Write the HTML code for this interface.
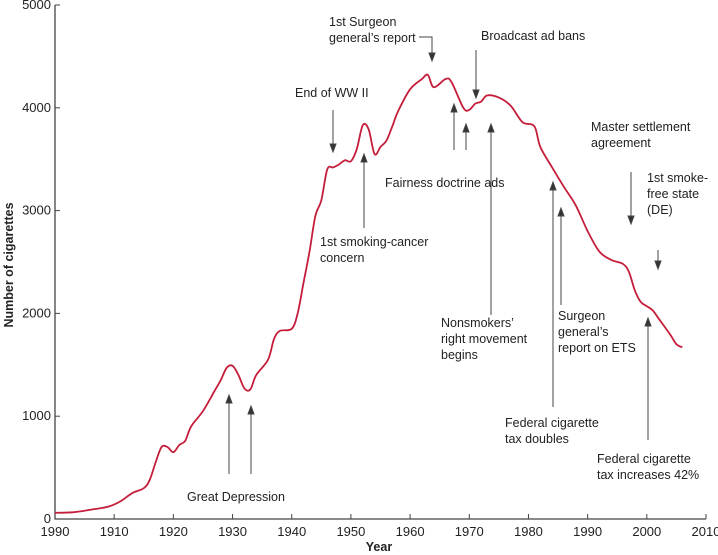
<!DOCTYPE html>
<html><head><meta charset="utf-8"><style>
html,body{margin:0;padding:0;background:#fff}
svg{display:block}
text{font-family:"Liberation Sans",Arial,sans-serif;font-size:12.5px;fill:#222}
#tl text{font-size:13px}
</style></head><body>
<svg id="s" width="718" height="555" viewBox="0 0 718 555">
<g stroke="#444" stroke-width="1.3" fill="none">
<path d="M55,5 V519 H706"/>
</g>
<g id="ticks" stroke="#444" stroke-width="1"></g>
<g id="tl"></g>
<path id="curve" fill="none" stroke="#c41e3a" stroke-width="1.8"/>
<g stroke="#444" stroke-width="1" fill="none">
<line x1="229" y1="474" x2="229" y2="397"/><path d="M226,403 L229,395 L232,403Z" fill="#333"/>
<line x1="251" y1="474" x2="251" y2="408"/><path d="M248,414 L251,406 L254,414Z" fill="#333"/>
<line x1="333" y1="110" x2="333" y2="150"/><path d="M330,144 L333,152 L336,144Z" fill="#333"/>
<line x1="364" y1="228" x2="364" y2="156"/><path d="M361,162 L364,154 L367,162Z" fill="#333"/>
<path d="M419,37 H432 V58"/><path d="M429,53 L432,61 L435,53Z" fill="#333"/>
<line x1="476" y1="50" x2="476" y2="96"/><path d="M473,90 L476,98 L479,90Z" fill="#333"/>
<line x1="454" y1="150" x2="454" y2="106"/><path d="M451,112 L454,104 L457,112Z" fill="#333"/>
<line x1="466" y1="150" x2="466" y2="126"/><path d="M463,132 L466,124 L469,132Z" fill="#333"/>
<line x1="491" y1="315" x2="491" y2="126"/><path d="M488,132 L491,124 L494,132Z" fill="#333"/>
<line x1="553" y1="407" x2="553" y2="184"/><path d="M550,190 L553,182 L556,190Z" fill="#333"/>
<line x1="561" y1="305" x2="561" y2="210"/><path d="M558,216 L561,208 L564,216Z" fill="#333"/>
<line x1="631" y1="172" x2="631" y2="222"/><path d="M628,216 L631,224 L634,216Z" fill="#333"/>
<line x1="658" y1="250" x2="658" y2="266"/><path d="M655,261 L658,269 L661,261Z" fill="#333"/>
<line x1="648" y1="440" x2="648" y2="320"/><path d="M645,326 L648,318 L651,326Z" fill="#333"/>
</g>
<text x="187" y="501">Great Depression</text>
<text x="295" y="97">End of WW II</text>
<text x="320" y="246">1st smoking-cancer</text>
<text x="320" y="262">concern</text>
<text x="329" y="26">1st Surgeon</text>
<text x="329" y="42">general’s report</text>
<text x="481" y="40">Broadcast ad bans</text>
<text x="385" y="187">Fairness doctrine ads</text>
<text x="441" y="327">Nonsmokers’</text>
<text x="441" y="343">right movement</text>
<text x="441" y="359">begins</text>
<text x="558" y="320">Surgeon</text>
<text x="558" y="336">general’s</text>
<text x="558" y="352">report on ETS</text>
<text x="505" y="427">Federal cigarette</text>
<text x="505" y="443">tax doubles</text>
<text x="591" y="131">Master settlement</text>
<text x="591" y="147">agreement</text>
<text x="647" y="182">1st smoke-</text>
<text x="647" y="198">free state</text>
<text x="647" y="214">(DE)</text>
<text x="597" y="463">Federal cigarette</text>
<text x="597" y="479">tax increases 42%</text>
<text x="379" y="551" style="font-weight:bold" text-anchor="middle">Year</text>
<text transform="translate(13,265) rotate(-90)" text-anchor="middle" style="font-weight:bold">Number of cigarettes</text>
</svg>
<script>
var X=function(y){return 55+(y-1900)*651/110},Y=function(v){return 519-v*0.1028};
var ns="http://www.w3.org/2000/svg",t=document.getElementById('ticks'),tl=document.getElementById('tl');
var labs=["1990","1910","1920","1930","1940","1950","1960","1970","1980","1990","2000","2010"];
for(var i=0;i<=11;i++){var x=X(1900+i*10);var l=document.createElementNS(ns,'line');l.setAttribute('x1',x);l.setAttribute('x2',x);l.setAttribute('y1',519);l.setAttribute('y2',514);t.appendChild(l);
var tx=document.createElementNS(ns,'text');tx.setAttribute('x',x);tx.setAttribute('y',536);tx.setAttribute('text-anchor','middle');tx.textContent=labs[i];tl.appendChild(tx);}
for(var v=0;v<=5000;v+=1000){var y=Y(v);var l=document.createElementNS(ns,'line');l.setAttribute('x1',55);l.setAttribute('x2',60);l.setAttribute('y1',y);l.setAttribute('y2',y);t.appendChild(l);
var tx=document.createElementNS(ns,'text');tx.setAttribute('x',51);tx.setAttribute('y',y+4);tx.setAttribute('text-anchor','end');tx.textContent=v;tl.appendChild(tx);}
var d=[[1900,60],[1903,65],[1906,90],[1909,120],[1911,170],[1913,250],[1915,300],[1916,380],[1917,550],[1918,700],[1919,700],[1920,650],[1921,720],[1922,760],[1923,900],[1925,1050],[1927,1250],[1928,1350],[1929,1470],[1930,1490],[1931,1400],[1932,1270],[1933,1260],[1934,1400],[1936,1550],[1937,1750],[1938,1830],[1940,1850],[1941,2000],[1942,2300],[1943,2600],[1944,2950],[1945,3100],[1946,3400],[1947,3420],[1948,3450],[1949,3490],[1950,3480],[1951,3600],[1952,3830],[1953,3790],[1954,3550],[1955,3620],[1956,3680],[1957,3820],[1958,3970],[1960,4180],[1962,4280],[1963,4320],[1964,4200],[1966,4280],[1967,4250],[1969,4000],[1970,3980],[1971,4040],[1972,4060],[1973,4120],[1975,4100],[1977,4020],[1979,3860],[1981,3820],[1982,3620],[1984,3420],[1986,3230],[1988,3050],[1990,2800],[1992,2600],[1994,2520],[1996,2480],[1997,2400],[1998,2220],[1999,2110],[2000,2070],[2001,2030],[2002,1950],[2004,1790],[2005,1700],[2006,1670]];
var p=d.map(function(a){return [X(a[0]),Y(a[1])]});
var s="M"+p[0][0]+","+p[0][1];
for(var i=0;i<p.length-1;i++){var p0=p[i-1]||p[i],p1=p[i],p2=p[i+1],p3=p[i+2]||p2;
s+=" C"+(p1[0]+(p2[0]-p0[0])/6)+","+(p1[1]+(p2[1]-p0[1])/6)+" "+(p2[0]-(p3[0]-p1[0])/6)+","+(p2[1]-(p3[1]-p1[1])/6)+" "+p2[0]+","+p2[1];}
document.getElementById('curve').setAttribute('d',s);
</script>
</body></html>
